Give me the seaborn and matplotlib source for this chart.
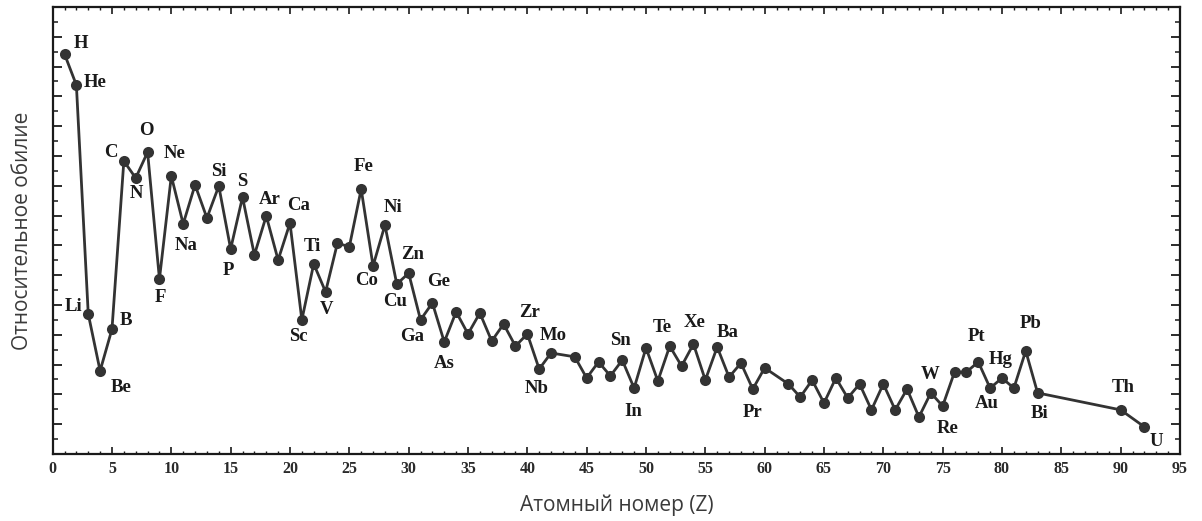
import matplotlib
matplotlib.use('Agg')
import matplotlib.pyplot as plt
from matplotlib.ticker import MultipleLocator, NullFormatter
import seaborn as sns
import pandas as pd

sns.set_theme(style='ticks')
plt.rcParams['font.family'] = ['Liberation Serif', 'DejaVu Serif']

# ── Data (arbitrary log units) ────────────────────────────────────
z = [1, 2, 3, 4, 5, 6, 7, 8, 9, 10,
     11, 12, 13, 14, 15, 16, 17, 18, 19, 20,
     21, 22, 23, 24, 25, 26, 27, 28, 29, 30,
     31, 32, 33, 34, 35, 36, 37, 38, 39, 40,
     41, 42, 44, 45, 46, 47, 48, 49, 50,
     51, 52, 53, 54, 55, 56, 57, 58, 59, 60,
     62, 63, 64, 65, 66, 67, 68, 69, 70,
     71, 72, 73, 74, 75, 76, 77, 78, 79, 80,
     81, 82, 83, 90, 92]
abundance = [13.42, 12.38, 4.70, 2.79, 4.19, 9.83, 9.26, 10.13, 5.87, 9.33,
             7.72, 9.03, 7.92, 8.99, 6.88, 8.62, 6.68, 7.99, 6.51, 7.75,
             4.50, 6.38, 5.44, 7.08, 6.95, 8.89, 6.31, 7.68, 5.70, 6.07,
             4.50, 5.07, 3.76, 4.77, 4.03, 4.73, 3.79, 4.36, 3.62, 4.03,
             2.85, 3.39, 3.26, 2.55, 3.09, 2.62, 3.15, 2.21, 3.56,
             2.45, 3.62, 2.95, 3.69, 2.48, 3.59, 2.58, 3.05, 2.18, 2.89,
             2.35, 1.91, 2.48, 1.71, 2.55, 1.88, 2.35, 1.48, 2.35,
             1.48, 2.18, 1.24, 2.05, 1.61, 2.75, 2.75, 3.09, 2.21, 2.55,
             2.21, 3.46, 2.05, 1.48, 0.91]

# labelled elements: symbol, Z, label offset in pixels (dx, dy)
label_sym = ['H', 'He', 'Li', 'Be', 'B', 'C', 'N', 'O', 'F', 'Ne', 'Na',
             'Si', 'S', 'P', 'Ar', 'Ca', 'Sc', 'Ti', 'V', 'Fe', 'Co', 'Ni',
             'Cu', 'Zn', 'Ga', 'Ge', 'As', 'Zr', 'Nb', 'Mo', 'Sn', 'In',
             'Te', 'Xe', 'Ba', 'Pr', 'W', 'Re', 'Pt', 'Au', 'Hg', 'Pb',
             'Bi', 'Th', 'U']
label_z = [1, 2, 3, 4, 5, 6, 7, 8, 9, 10, 11,
           14, 16, 15, 18, 20, 21, 22, 23, 26, 27, 28,
           29, 30, 31, 32, 33, 40, 41, 42, 50, 49,
           52, 54, 56, 59, 74, 75, 78, 79, 80, 82,
           83, 90, 92]
label_off = [(16, 11), (19, 3), (-15, 7), (21, -17), (14, 9), (-13, 9), (1, -15),
             (-1, 22), (1, -18), (3, 22), (3, -22), (0, 15), (0, 16), (-2, -22),
             (3, 16), (9, 18), (-4, -17), (-1, 17), (1, -18), (2, 23), (-6, -15),
             (8, 18), (-2, -17), (4, 19), (-8, -17), (6, 21), (0, -22), (2, 21),
             (-2, -19), (2, 17), (-26, 7), (-1, -23), (-7, 19), (1, 22), (10, 15),
             (0, -23), (-1, 18), (5, -22), (-2, 25), (-3, -15), (-1, 19), (5, 27),
             (2, -21), (3, 22), (12, -15)]

df = pd.DataFrame({'Z': z, 'abund': abundance})
ink = '#333333'

fig = plt.figure(figsize=(12.02, 5.21), dpi=100)
ax = fig.add_axes([0.0438, 0.1286, 0.9379, 0.858])

sns.lineplot(data=df, x='Z', y='abund', ax=ax, color=ink, lw=2.0,
             marker='o', markersize=8, markeredgewidth=0, markerfacecolor=ink)

lookup = dict(zip(z, abundance))
for sym, zz, (dx, dy) in zip(label_sym, label_z, label_off):
    ax.annotate(sym, (zz, lookup[zz]), xytext=(dx, dy), textcoords='offset pixels',
                ha='center', va='center', fontsize=13.5, fontweight='bold', color='#1a1a1a')

ax.set_xlim(0, 95)
ax.set_ylim(0, 15)
ax.xaxis.set_major_locator(MultipleLocator(5))
ax.xaxis.set_minor_locator(MultipleLocator(1))
ax.yaxis.set_major_locator(MultipleLocator(1))
ax.yaxis.set_minor_locator(MultipleLocator(0.5))
ax.yaxis.set_major_formatter(NullFormatter())
ax.tick_params(which='both', direction='in', top=True, right=True, color='#1a1a1a')
ax.tick_params(which='major', axis='y', length=6.5, width=1.3)
ax.tick_params(which='minor', axis='y', length=3.5, width=1.1)
ax.tick_params(which='major', axis='x', length=5, width=1.2, pad=5)
ax.tick_params(which='minor', axis='x', length=2.5, width=1.0)
for lab in ax.get_xticklabels():
    lab.set_fontweight('bold')
    lab.set_fontsize(11.5)
    lab.set_color('#2a2a2a')
for sp in ax.spines.values():
    sp.set_linewidth(1.6)
    sp.set_color('#1a1a1a')

ax.set_xlabel('Атомный номер (Z)', family=['Open Sans', 'DejaVu Sans'],
              fontsize=15, color='#3a3a3a', labelpad=13)
ax.set_ylabel('Относительное обилие', family=['Open Sans', 'DejaVu Sans'],
              fontsize=15, color='#3a3a3a', labelpad=11)

plt.savefig('out.png', dpi=100)
